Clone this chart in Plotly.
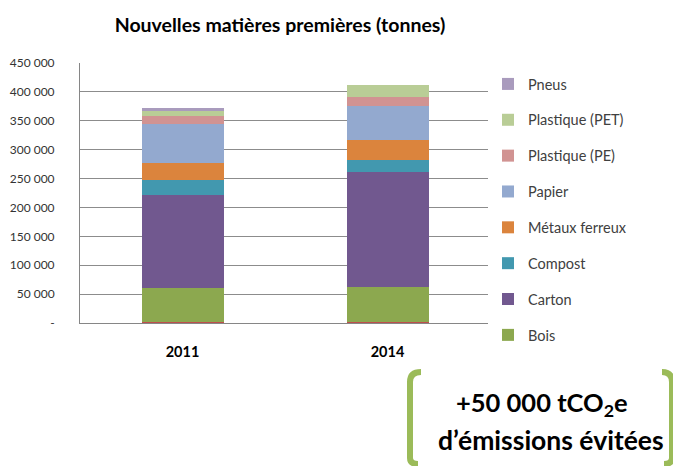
import plotly.graph_objects as go

years = ["2011", "2014"]
series_names = ["", "Bois", "Carton", "Compost", "Métaux ferreux", "Papier",
                "Plastique (PE)", "Plastique (PET)", "Pneus"]
autre = [2500, 2500]
bois = [58900, 60600]
carton = [160300, 197700]
compost = [26600, 20700]
metaux = [28100, 35700]
papier = [68400, 57900]
plastique_pe = [14300, 15600]
plastique_pet = [8600, 21800]
pneus = [4700, 0]
colors = ["#BD4F4C", "#8CA84F", "#71588F", "#4298AF", "#DB843D", "#93A9CF",
          "#D19392", "#B9CD96", "#A99BBD"]
tick_vals = [0, 50000, 100000, 150000, 200000, 250000, 300000, 350000, 400000, 450000]
tick_text = ["-", "50 000", "100 000", "150 000", "200 000", "250 000",
             "300 000", "350 000", "400 000", "450 000"]

values = [autre, bois, carton, compost, metaux, papier, plastique_pe, plastique_pet, pneus]

FONT = "Lato, sans-serif"

fig = go.Figure()
for i, (name, vals) in enumerate(zip(series_names, values)):
    fig.add_trace(go.Bar(
        x=years, y=vals, name=name, marker_color=colors[i],
        marker_line_width=0, showlegend=(i > 0), legendgroup=str(i),
        legendrank=100 - i,
    ))

# page offset (body margin) and geometry in reference-pixel coordinates
OFF = 8
W, H = 681 - OFF, 466 - OFF
PL, PT, PR, PB = 80, 63, 490, 323          # plot area in page pixels
L, T = PL - OFF, PT - OFF
R, B = (W + OFF) - PR, (H + OFF) - PB
PW, PH = PR - PL, PB - PT

def px(x):
    return (x - PL) / PW

def py(y):
    return (PB - y) / PH

fig.update_layout(
    width=W, height=H, margin=dict(l=L, r=R, t=T, b=B, autoexpand=False),
    barmode="stack", bargap=0.6,
    paper_bgcolor="white", plot_bgcolor="white",
    font=dict(family=FONT, color="#404040", size=13),
    title=dict(text="<b>Nouvelles matières premières (tonnes)</b>",
               x=(280 - OFF) / W, xanchor="center",
               y=1 - (25 - OFF) / H, yanchor="middle",
               font=dict(size=19.5, color="#000000", family=FONT)),
    xaxis=dict(showline=True, linecolor="#868686", linewidth=1,
               tickfont=dict(size=14.5, color="#000000", family=FONT, weight="bold"),
               ticks="", ticklabelstandoff=16, automargin=False),
    yaxis=dict(range=[0, 450000], tickvals=tick_vals, ticktext=tick_text,
               showgrid=True, gridcolor="#8C8C8C", gridwidth=1,
               showline=True, linecolor="#868686", linewidth=1,
               ticks="", ticklabelstandoff=22, zeroline=False, automargin=False,
               tickfont=dict(size=12, color="#333333", family=FONT)),
    legend=dict(x=px(488), xanchor="left", y=py(68), yanchor="top",
                traceorder="grouped", tracegroupgap=14, maxheight=800,
                font=dict(size=14.5, color="#404040", family=FONT),
                itemwidth=30),
)

green = "#9BBB59"
lx, rx, ty, by = 410, 672, 372, 464
left_path = (f"M {px(lx + 11)} {py(ty)} Q {px(lx)} {py(ty)} {px(lx)} {py(ty + 10)} "
             f"L {px(lx)} {py(by - 6)} Q {px(lx)} {py(by)} {px(lx + 8)} {py(by)}")
right_path = (f"M {px(rx - 10)} {py(ty)} Q {px(rx)} {py(ty)} {px(rx)} {py(ty + 10)} "
              f"L {px(rx)} {py(by - 6)} Q {px(rx)} {py(by)} {px(rx - 8)} {py(by)}")
for p in (left_path, right_path):
    fig.add_shape(type="path", path=p, xref="paper", yref="paper",
                  line=dict(color=green, width=6))

fig.add_annotation(text="<b>+50 000 tCO<sub>2</sub>e</b>", x=px(542), y=py(404),
                   xref="paper", yref="paper", showarrow=False,
                   xanchor="center", yanchor="middle",
                   font=dict(size=25.5, color="#000000", family=FONT))
fig.add_annotation(text="<b>d’émissions évitées</b>", x=px(551), y=py(440),
                   xref="paper", yref="paper", showarrow=False,
                   xanchor="center", yanchor="middle",
                   font=dict(size=26.5, color="#000000", family=FONT))

fig.write_html("out.html")
